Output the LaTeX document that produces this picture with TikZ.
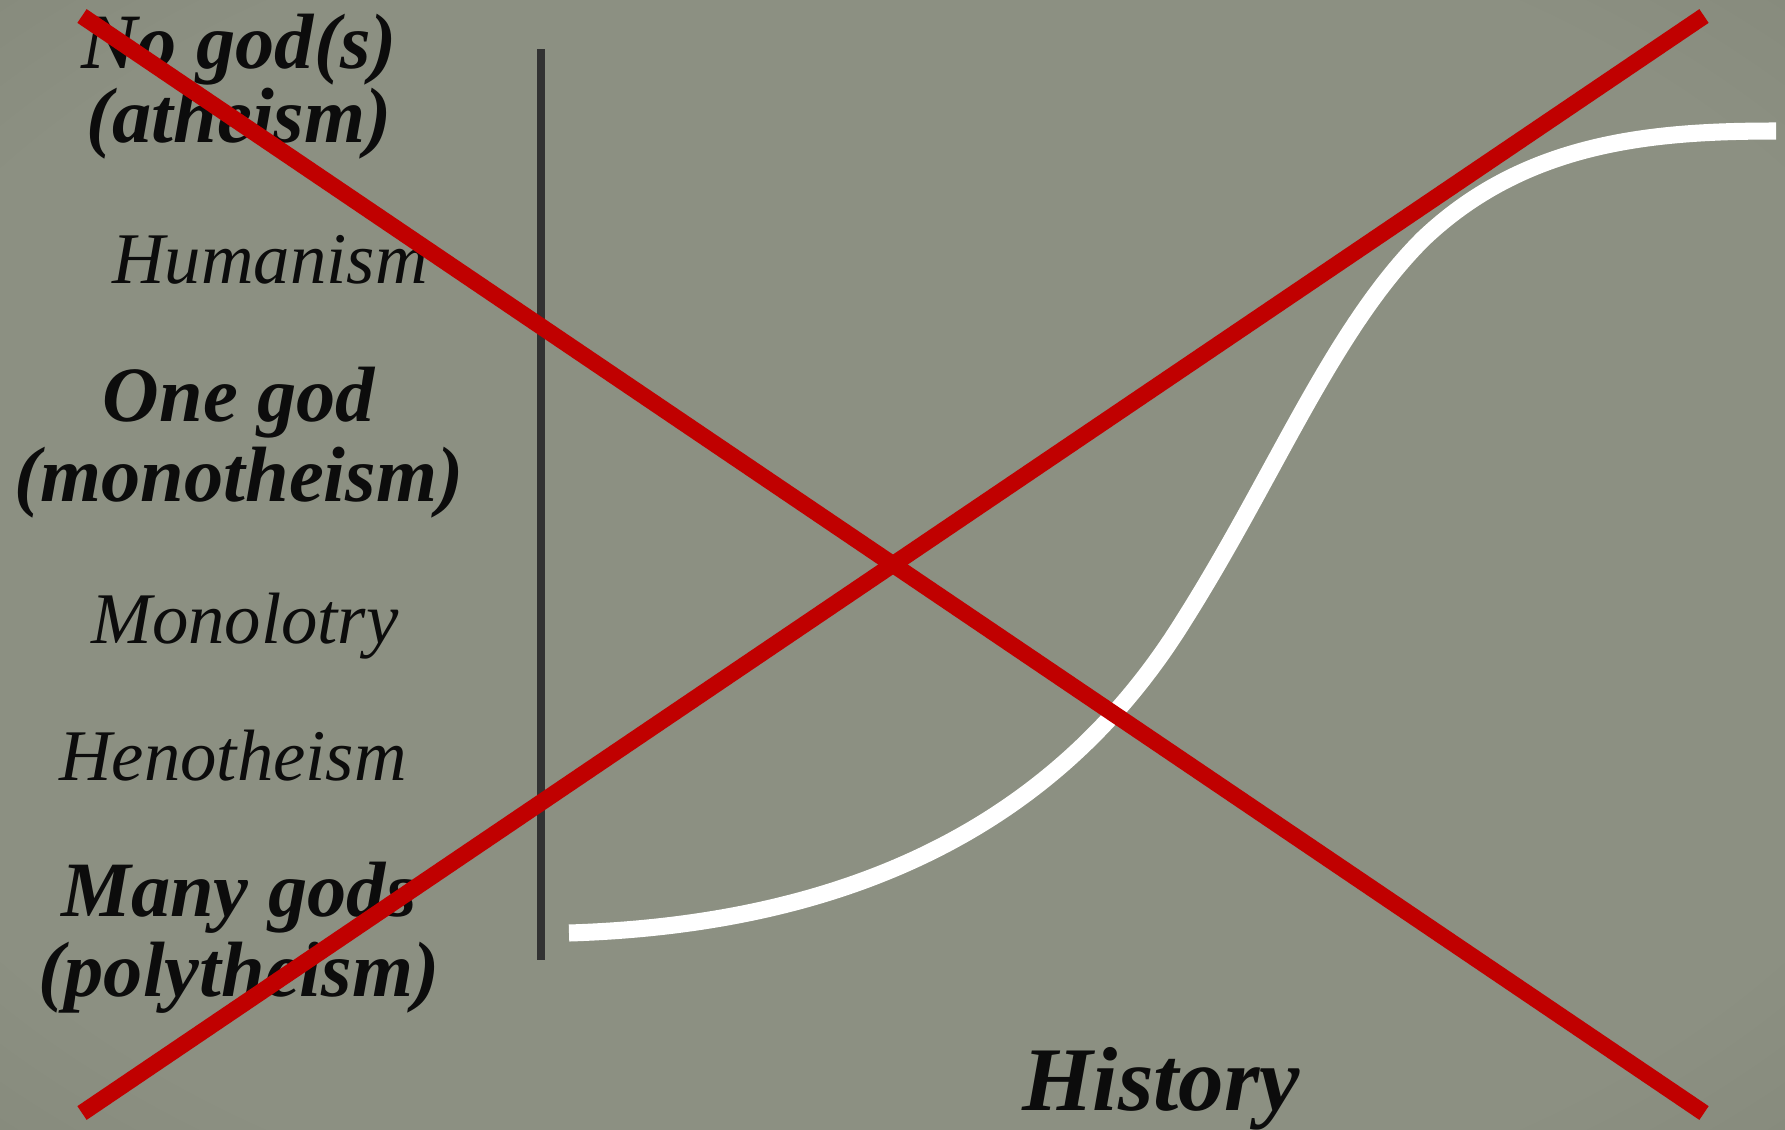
\documentclass[tikz,border=0pt]{standalone}
\usepackage{fontspec}
\setmainfont{Liberation Serif}
\definecolor{bgin}{RGB}{140,144,130}
\definecolor{bgout}{RGB}{122,126,112}
\definecolor{redx}{RGB}{192,0,0}
\definecolor{axisc}{RGB}{50,50,50}
\definecolor{txt}{RGB}{12,12,12}
\pgfdeclareradialshading{vign}{\pgfpoint{0bp}{0bp}}{color(0bp)=(bgin); color(30bp)=(bgin); color(50bp)=(bgout)}
\begin{document}
\begin{tikzpicture}[x=0.44pt,y=-0.44pt,
  reg/.style={anchor=base, inner sep=0pt, text=txt, font=\itshape\fontsize{32}{34}\selectfont},
  bld/.style={anchor=base, inner sep=0pt, text=txt, font=\bfseries\itshape\fontsize{34.5}{36}\selectfont},
  ttl/.style={anchor=base, inner sep=0pt, text=txt, font=\bfseries\itshape\fontsize{40}{42}\selectfont},
  cross/.style={draw=redx, line width=7.3pt, line cap=butt},
  curve/.style={draw=white, line width=7.5pt, line cap=butt},
  axisline/.style={draw=axisc, line width=3.4pt}]
\useasboundingbox (0,0) rectangle (1785,1129);
\shade[shading=vign] (0,0) rectangle (1785,1129);
% labels
\node[bld] (nogod) at (239,68) {No god(s)};
\node[bld] (athe) at (239,142) {(atheism)};
\node[reg] (hum) at (270,283) {Humanism};
\node[bld] (onegod) at (239,421) {One god};
\node[bld] (mono) at (239,501) {(monotheism)};
\node[reg] (monol) at (245,643) {Monolotry};
\node[reg] (heno) at (233,780) {Henotheism};
\node[bld] (many) at (239,916) {Many gods};
\node[bld] (poly) at (239,996) {(polytheism)};
\node[ttl] (hist) at (1161,1110) {History};
% axis
\coordinate (ax1) at (541,49);
\coordinate (ax2) at (541,960);
\draw[axisline] (ax1) -- (ax2);
% white curve
\coordinate (c0) at (569,933);
\coordinate (c1) at (1184,620);
\coordinate (c2) at (1423,239);
\coordinate (c3) at (1776,131);
\draw[curve] (c0) .. controls (854,924) and (1059,822) .. (c1)
  .. controls (1275,476) and (1332,330) .. (c2)
  .. controls (1525,142) and (1651,131) .. (c3);
% red cross
\coordinate (r1a) at (82,16);
\coordinate (r1b) at (1704,1113);
\coordinate (r2a) at (82,1113);
\coordinate (r2b) at (1704,16);
\draw[cross] (r1a) -- (r1b);
\draw[cross] (r2a) -- (r2b);
\end{tikzpicture}
\end{document}
